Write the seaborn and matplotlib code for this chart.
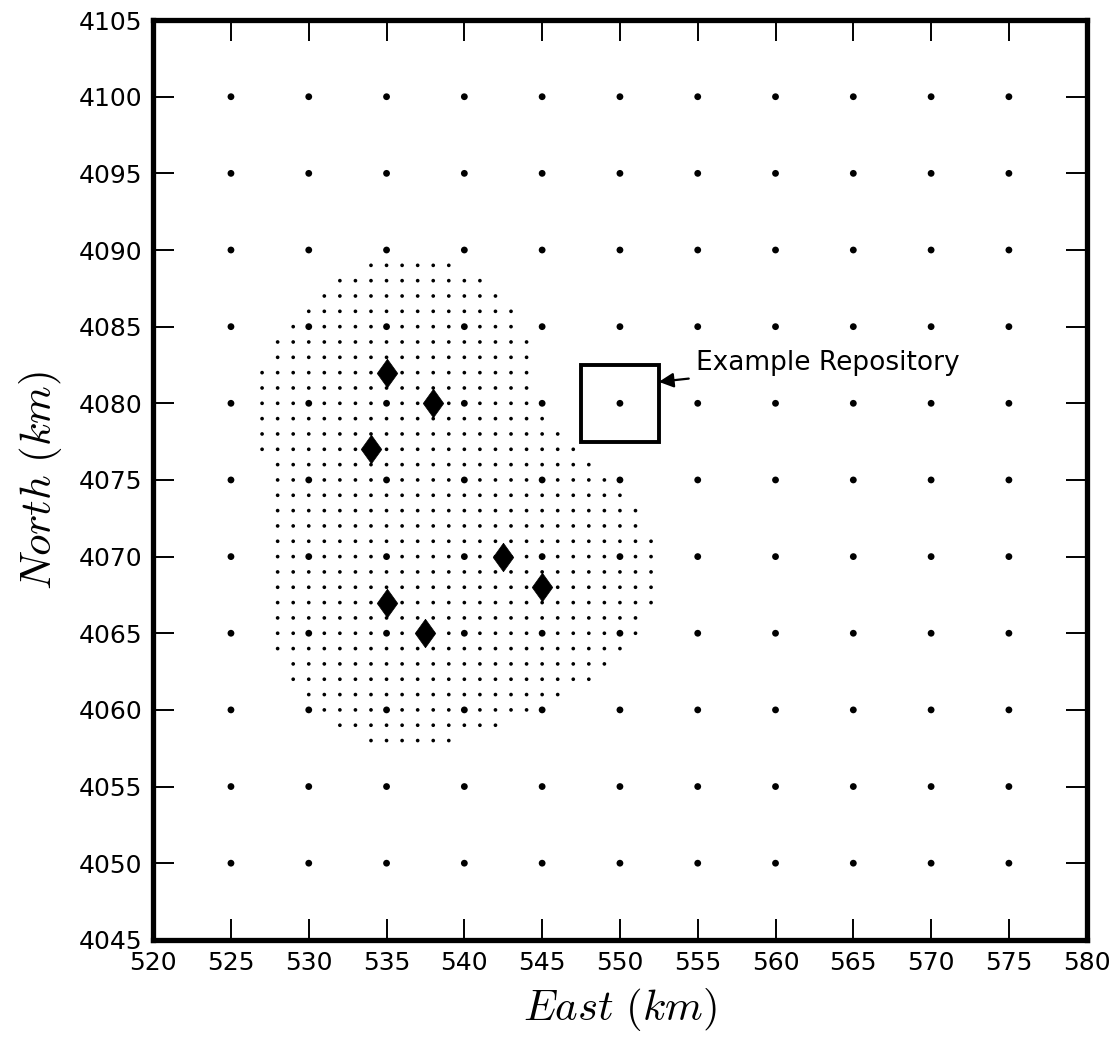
import numpy as np
import pandas as pd
import matplotlib
matplotlib.use("Agg")
import matplotlib.pyplot as plt
import seaborn as sns
from matplotlib.patches import Rectangle

# Coarse 5-km grid
coarse_east = [525, 530, 535, 540, 545, 550, 555, 560, 565, 570, 575]
coarse_north = [4050, 4055, 4060, 4065, 4070, 4075, 4080, 4085, 4090, 4095, 4100]

# Fine 1-km grid: per row (north) the first and last east value
fine_rows_north = [4089, 4088, 4087, 4086, 4085, 4084, 4083, 4082, 4081, 4080,
                   4079, 4078, 4077, 4076, 4075, 4074, 4073, 4072, 4071, 4070,
                   4069, 4068, 4067, 4066, 4065, 4064, 4063, 4062, 4061, 4060,
                   4059, 4058]
fine_rows_east_min = [534, 532, 531, 530, 529, 528, 528, 527, 527, 527,
                      527, 527, 527, 528, 528, 528, 528, 528, 528, 528,
                      528, 528, 528, 528, 528, 528, 529, 529, 530, 530,
                      532, 534]
fine_rows_east_max = [539, 541, 542, 543, 543, 544, 544, 544, 544, 544,
                      545, 546, 547, 548, 549, 550, 551, 551, 552, 552,
                      552, 552, 552, 551, 551, 550, 549, 548, 546, 545,
                      542, 539]

# Sites (diamonds)
site_east = [535, 538, 534, 542.5, 545, 535, 537.5]
site_north = [4082, 4080, 4077, 4070, 4068, 4067, 4065]

# Example repository
repo_east, repo_north = 550, 4080
repo_half = 2.5
repo_label = "Example Repository"

coarse_df = pd.DataFrame([(e, n) for n in coarse_north for e in coarse_east],
                         columns=["East", "North"])
fine_pts = []
for n, a, b in zip(fine_rows_north, fine_rows_east_min, fine_rows_east_max):
    for e in range(a, b + 1):
        fine_pts.append((e, n))
fine_df = pd.DataFrame(fine_pts, columns=["East", "North"])
site_df = pd.DataFrame({"East": site_east, "North": site_north})

sns.set_style("ticks")
plt.rcParams["font.family"] = ["DejaVu Sans"]
plt.rcParams["mathtext.fontset"] = "cm"
for k in ["text.color", "axes.labelcolor", "xtick.color", "ytick.color", "axes.edgecolor"]:
    plt.rcParams[k] = "black"

fig = plt.figure(figsize=(11.18, 10.56), dpi=100)
ax = fig.add_axes([0.137, 0.110, 0.835, 0.871])

diamond = [(0, 1), (0.72, 0), (0, -1), (-0.72, 0), (0, 1)]

sns.scatterplot(data=fine_df, x="East", y="North", ax=ax, s=7, color="black",
                edgecolor="none", linewidth=0, legend=False, zorder=2)
sns.scatterplot(data=coarse_df, x="East", y="North", ax=ax, s=24, color="black",
                edgecolor="none", linewidth=0, legend=False, zorder=3)
sns.scatterplot(data=site_df, x="East", y="North", ax=ax, marker=diamond, s=420,
                color="black", edgecolor="black", linewidth=0.5, legend=False, zorder=4)

ax.add_patch(Rectangle((repo_east - repo_half, repo_north - repo_half),
                       2 * repo_half, 2 * repo_half, fill=False,
                       edgecolor="black", linewidth=2.8, zorder=5))
ax.annotate(repo_label, xy=(552.5, 4081.4), xytext=(554.9, 4082.6),
            fontsize=19, va="center", ha="left", color="black",
            arrowprops=dict(arrowstyle="-|>", color="black", lw=1.6,
                            mutation_scale=22, shrinkA=3, shrinkB=0))

ax.set_xlim(520, 580)
ax.set_ylim(4045, 4105)
ax.set_xticks(np.arange(520, 581, 5))
ax.set_yticks(np.arange(4045, 4106, 5))
ax.tick_params(direction="in", length=15, width=1.4, top=True, right=True,
               labelsize=18, pad=8)
for sp in ax.spines.values():
    sp.set_linewidth(3.8)
    sp.set_visible(True)
    sp.set_color("black")

ax.set_xlabel(r"$East\ (km)$", fontsize=31, labelpad=8)
ax.set_ylabel(r"$North\ (km)$", fontsize=31, labelpad=10)

fig.savefig("out.png", dpi=100)
